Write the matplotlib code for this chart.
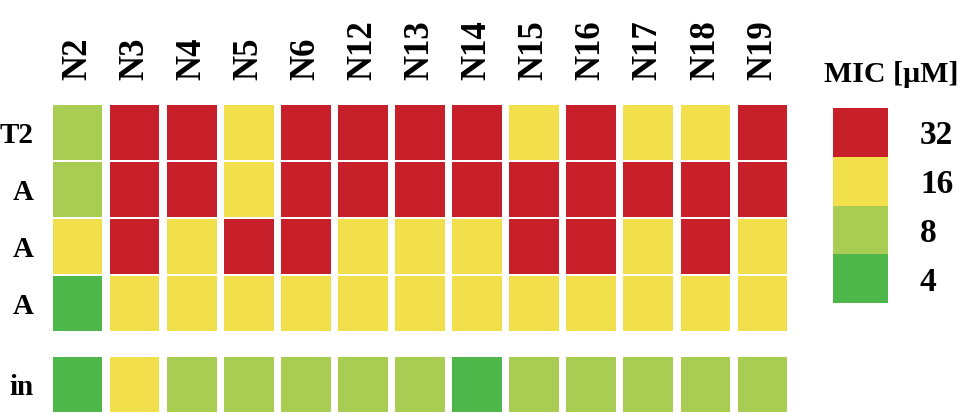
import matplotlib
matplotlib.use("Agg")
import matplotlib.pyplot as plt
import numpy as np

# ---- data ----
peptides = ["N2", "N3", "N4", "N5", "N6", "N12", "N13", "N14",
            "N15", "N16", "N17", "N18", "N19"]
strains = ["T2", "A", "A", "A", "in"]
mic_row1 = [8, 32, 32, 16, 32, 32, 32, 32, 16, 32, 16, 16, 32]
mic_row2 = [8, 32, 32, 16, 32, 32, 32, 32, 32, 32, 32, 32, 32]
mic_row3 = [16, 32, 16, 32, 32, 16, 16, 16, 32, 32, 16, 32, 16]
mic_row4 = [4, 16, 16, 16, 16, 16, 16, 16, 16, 16, 16, 16, 16]
mic_row5 = [4, 16, 8, 8, 8, 8, 8, 4, 8, 8, 8, 8, 8]
levels = [32, 16, 8, 4]
level_labels = ["32", "16", "8", "4"]
legend_title = "MIC [µM]"

# ---- style ----
colors = {32: "#C8202B", 16: "#F1DF4C", 8: "#A9CD52", 4: "#4DB849"}
plt.rcParams['font.family'] = ['Liberation Serif', 'DejaVu Serif']
plt.rcParams['font.weight'] = 'bold'

W, H = 966, 413
fig = plt.figure(figsize=(W / 100, H / 100), dpi=100)

ax = fig.add_axes([49 / W, 0, 742 / W, (H - 104) / H])
rows_y = [0, 1, 2, 3, 4.42]
x = np.arange(len(peptides))
all_rows = [mic_row1, mic_row2, mic_row3, mic_row4, mic_row5]
for yi, vals in zip(rows_y, all_rows):
    ax.bar(x, height=0.95, bottom=yi - 0.475, width=0.87,
           color=[colors[v] for v in vals], linewidth=0)
ax.set_xlim(-0.5, len(peptides) - 0.5)
ax.set_ylim(rows_y[-1] + 0.5, -0.5)
ax.xaxis.tick_top()
ax.set_xticks(x, peptides, rotation=90, fontsize=25, fontweight='bold')
ax.set_yticks(rows_y, strains, fontsize=21, fontweight='bold')
ax.tick_params(axis='x', length=0, pad=17)
ax.tick_params(axis='y', length=0, pad=11)
for s in ax.spines.values():
    s.set_visible(False)

# ---- legend ----
lax = fig.add_axes([833 / W, 1 - 303 / H, 55 / W, 195 / H])
pos = np.arange(len(levels))[::-1]
lax.bar([0] * len(levels), height=1, bottom=pos, width=1,
        color=[colors[v] for v in levels], linewidth=0)
lax.set_xlim(-0.5, 0.5)
lax.set_ylim(0, len(levels))
lax.yaxis.tick_right()
lax.set_yticks(pos + 0.5, level_labels, fontsize=24, fontweight='bold')
lax.set_xticks([])
lax.tick_params(axis='y', length=0, pad=23)
for s in lax.spines.values():
    s.set_visible(False)

fig.text(824 / W, 1 - 82 / H, legend_title, fontsize=21.5, fontweight='bold',
         ha='left', va='baseline')

fig.savefig("out.png", dpi=100)
